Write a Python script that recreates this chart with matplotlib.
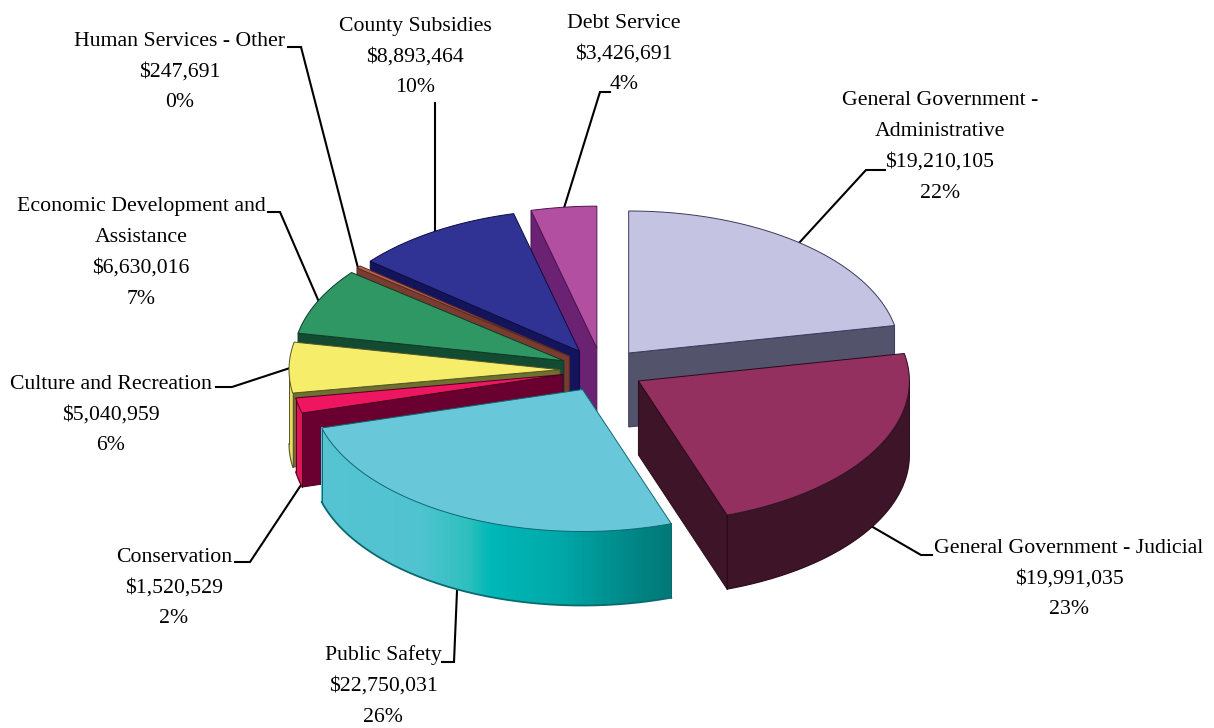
import numpy as np
import matplotlib
matplotlib.use("Agg")
import matplotlib.pyplot as plt
from matplotlib.collections import PolyCollection
from matplotlib.colors import to_rgb

# budget by function, clockwise from twelve o'clock
names = [
    "General Government -\nAdministrative",
    "General Government - Judicial",
    "Public Safety",
    "Conservation",
    "Culture and Recreation",
    "Economic Development and\nAssistance",
    "Human Services - Other",
    "County Subsidies",
    "Debt Service",
]
amounts = [19210105, 19991035, 22750031, 1520529, 5040959, 6630016, 247691, 8893464, 3426691]
percents = ["22%", "23%", "26%", "2%", "6%", "7%", "0%", "10%", "4%"]

# pie geometry in pixels
CX, CY = 602, 370
RX, RY = 271, 142
DEPTH = 74
EXPLODE = [42, 42, 42, 40, 42, 42, 42, 42, 42]
DRAW_ORDER = [8, 7, 6, 5, 4, 3, 0, 1, 2]

TOP = ["#C5C3E2", "#93305F", "#68C8DA", "#EE1660", "#F6EE6A", "#2F9763", "#B8604F", "#303393", "#B24FA0"]
CUT = ["#53536B", "#3E1428", "#3E1428", "#6A0030", "#6F6F30", "#134A32", "#7A3B30", "#14145C", "#6B2272"]
RIM = ["#53536B", "#3E1428", "#55C3D2", "#E0155A", "#E8DE60", "#134A32", "#7A3B30", "#14145C", "#6B2272"]
EDGE = ["#3A3A60", "#2A0A1C", "#0B6A70", "#4A0020", "#55552A", "#0E3A26", "#5A2A20", "#0C0C40", "#4A1650"]

# shading along the front rim of the public safety slice
RIM_STOPS = [0.0, 0.28, 0.42, 0.48, 0.68, 0.85, 1.0]
RIM_SHADES = ["#55C3D2", "#50C3D0", "#2EBFBD", "#00B8B8", "#00A8A8", "#008C8C", "#007876"]

# label block centres and leader lines
LABEL_POS = [(940, 147), (1069, 579), (383, 686), (174, 588), (111, 415), (141, 253), (180, 72), (415, 57), (624, 54)]
LEADERS = [
    [(799, 243), (866, 170), (885, 170)],
    [(871, 526), (921, 555), (932, 555)],
    [(457, 591), (454, 662), (442, 662)],
    [(301, 485), (250, 562), (235, 562)],
    [(290, 368), (232, 387), (216, 387)],
    [(319, 302), (280, 212), (268, 212)],
    [(358, 268), (301, 47), (288, 47)],
    [(435, 233), (435, 103)],
    [(564, 208), (600, 92), (610, 92)],
]


def point(apex, theta):
    """Rim position for an angle in degrees, clockwise from the top."""
    t = np.radians(theta)
    return apex[0] + RX * np.sin(t), apex[1] - RY * np.cos(t)


def draw_rim(ax, apex, a0, a1, i):
    # only the front half of the rim shows
    lo, hi = max(a0, 90), min(a1, 270)
    if lo >= hi:
        return
    th = np.linspace(lo, hi, 160)
    xs, ys = point(apex, th)
    edge_lw = 0.8
    if i == 2:
        frac = (xs - xs.min()) / (xs.max() - xs.min())
        rgb = np.array([to_rgb(c) for c in RIM_SHADES])
        cols = np.column_stack([np.interp(frac, RIM_STOPS, rgb[:, k]) for k in range(3)])[:-1]
        # strips stop just short of the lower edge so the smooth outline hides their steps
        low = DEPTH - 1.5
        quads = [
            [(xs[k], ys[k]), (xs[k + 1], ys[k + 1]), (xs[k + 1], ys[k + 1] + low), (xs[k], ys[k] + low)]
            for k in range(len(th) - 1)
        ]
        ax.add_collection(PolyCollection(quads, facecolors=cols, edgecolors=cols, linewidths=0.8,
                                         antialiaseds=False, zorder=1))
        edge_lw = 1.3
    else:
        ax.fill(np.r_[xs, xs[::-1]], np.r_[ys, ys[::-1] + DEPTH], facecolor=RIM[i], edgecolor="none", zorder=1)
    ax.plot(xs, ys + DEPTH, color=EDGE[i], lw=edge_lw, zorder=1)
    ax.plot([xs[0], xs[0]], [ys[0], ys[0] + DEPTH], color=EDGE[i], lw=0.7, zorder=1)
    ax.plot([xs[-1], xs[-1]], [ys[-1], ys[-1] + DEPTH], color=EDGE[i], lw=0.7, zorder=1)


def draw_cut(ax, apex, theta, i):
    x, y = point(apex, theta)
    ax.fill([apex[0], x, x, apex[0]], [apex[1], y, y + DEPTH, apex[1] + DEPTH],
            facecolor=CUT[i], edgecolor=EDGE[i], lw=0.7, zorder=1)


def draw_slice(ax, i, a0, a1):
    mid = np.radians((a0 + a1) / 2)
    apex = (CX + EXPLODE[i] * np.sin(mid), CY - EXPLODE[i] * RY / RX * np.cos(mid))

    if np.sin(np.radians(a0)) < 0:
        draw_cut(ax, apex, a0, i)
    if np.sin(np.radians(a1)) > 1e-6:
        draw_cut(ax, apex, a1, i)
    draw_rim(ax, apex, a0, a1, i)

    th = np.linspace(a0, a1, 120)
    xs, ys = point(apex, th)
    ax.fill(np.r_[apex[0], xs], np.r_[apex[1], ys], facecolor=TOP[i], edgecolor=EDGE[i], lw=0.7, zorder=1)


fig = plt.figure(figsize=(12.14, 7.28), dpi=100, facecolor="white")
ax = fig.add_axes([0, 0, 1, 1])
ax.set_xlim(0, 1214)
ax.set_ylim(728, 0)
ax.axis("off")

ends = np.cumsum(amounts) / np.sum(amounts) * 360
starts = np.r_[0, ends[:-1]]

for i in DRAW_ORDER:
    draw_slice(ax, i, starts[i], ends[i])

for line in LEADERS:
    ax.plot(*zip(*line), color="black", lw=1.5, solid_joinstyle="miter", zorder=0.5)

for name, amount, pct, (x, y) in zip(names, amounts, percents, LABEL_POS):
    ax.text(x, y, f"{name}\n${amount:,}\n{pct}", ha="center", va="center",
            family="Liberation Serif", fontsize=15.7, linespacing=1.84, color="black")

fig.savefig("out.png", dpi=100)
